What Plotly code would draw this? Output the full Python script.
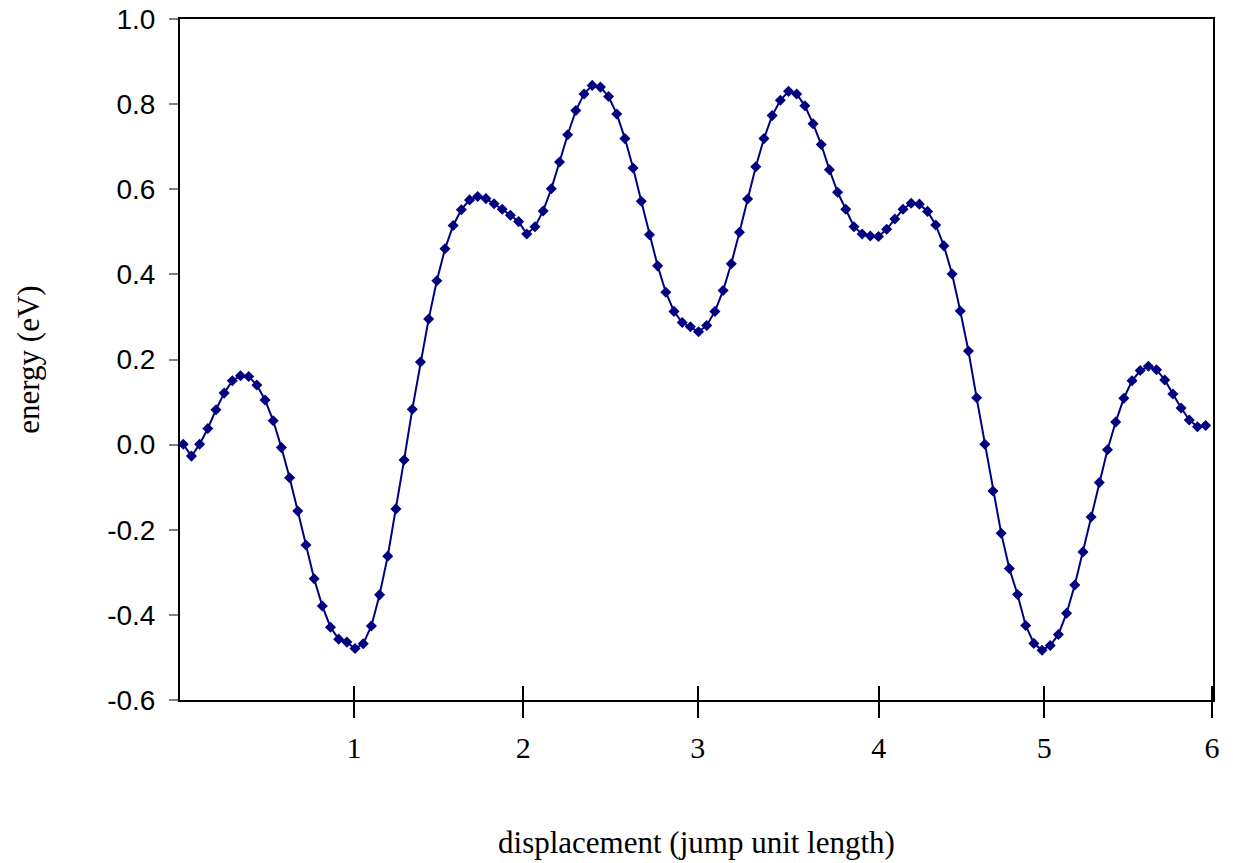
import plotly.graph_objects as go

# Energy along the jump path (eV), evenly spaced samples
energy = [
    0.001, -0.027, 0.001, 0.038, 0.082, 0.121, 0.150, 0.162, 0.160, 0.140,
    0.105, 0.056, -0.007, -0.078, -0.156, -0.236, -0.315, -0.379, -0.429, -0.457,
    -0.464, -0.479, -0.468, -0.426, -0.353, -0.262, -0.151, -0.036, 0.083, 0.194,
    0.295, 0.385, 0.460, 0.515, 0.552, 0.575, 0.583, 0.578, 0.566, 0.553,
    0.539, 0.524, 0.495, 0.512, 0.549, 0.601, 0.664, 0.728, 0.785, 0.824,
    0.844, 0.840, 0.818, 0.777, 0.719, 0.650, 0.572, 0.493, 0.420, 0.358,
    0.313, 0.287, 0.277, 0.265, 0.280, 0.313, 0.362, 0.425, 0.499, 0.577,
    0.653, 0.719, 0.773, 0.809, 0.830, 0.824, 0.796, 0.754, 0.705, 0.646,
    0.593, 0.553, 0.512, 0.495, 0.490, 0.489, 0.506, 0.530, 0.553, 0.567,
    0.565, 0.548, 0.516, 0.467, 0.401, 0.314, 0.220, 0.110, 0.001, -0.109,
    -0.208, -0.291, -0.352, -0.425, -0.467, -0.483, -0.472, -0.446, -0.396, -0.330,
    -0.252, -0.170, -0.089, -0.012, 0.053, 0.109, 0.150, 0.174, 0.184, 0.176,
    0.152, 0.119, 0.086, 0.058, 0.042, 0.045,
]
sample_index = list(range(len(energy)))

# x-axis ticks (in sample-index units) and their labels
x_tick_positions = [20.87, 41.57, 62.89, 85.02, 105.27, 125.77]
x_tick_labels = ["1", "2", "3", "4", "5", "6"]

y_tick_values = [-0.6, -0.4, -0.2, 0.0, 0.2, 0.4, 0.6, 0.8, 1.0]
y_tick_labels = ["-0.6", "-0.4", "-0.2", "0.0", "0.2", "0.4", "0.6", "0.8", "1.0"]

x_range = [-0.40, 125.90]
y_range = [-0.6, 1.0]

NAVY = "#000080"
SERIF = "Liberation Serif, Times New Roman, serif"
SANS = "Liberation Sans, Arial, sans-serif"

fig = go.Figure()
fig.add_trace(go.Scatter(
    x=sample_index, y=energy, mode="lines+markers",
    line=dict(color=NAVY, width=2),
    marker=dict(symbol="diamond", size=8.5, color=NAVY),
    showlegend=False,
))
# invisible companion trace so the overlay axis (inner half of crossing ticks) is drawn
fig.add_trace(go.Scatter(
    x=sample_index, y=energy, xaxis="x2", mode="markers",
    marker=dict(opacity=0), hoverinfo="skip", showlegend=False,
))

fig.update_layout(
    width=1233, height=863,
    margin=dict(l=180, r=20, t=19, b=163),
    plot_bgcolor="white", paper_bgcolor="white",
    showlegend=False,
    xaxis=dict(
        range=x_range, tickmode="array",
        tickvals=x_tick_positions, ticktext=x_tick_labels,
        ticks="outside", ticklen=16, tickwidth=2, tickcolor="black",
        showline=True, linecolor="black", linewidth=2, mirror=True,
        showgrid=False, zeroline=False, automargin=False,
        tickfont=dict(family=SERIF, size=30, color="black"),
        ticklabelstandoff=4,
        title=dict(text="displacement (jump unit length)",
                   font=dict(family=SERIF, size=31, color="black"),
                   standoff=68),
    ),
    xaxis2=dict(
        overlaying="x", anchor="y", side="bottom",
        range=x_range, tickmode="array", tickvals=x_tick_positions,
        ticks="inside", ticklen=14, tickwidth=2, tickcolor="black",
        showticklabels=False, showline=False, showgrid=False, zeroline=False,
        automargin=False,
    ),
    yaxis=dict(
        range=y_range, tickmode="array",
        tickvals=y_tick_values, ticktext=y_tick_labels,
        ticks="outside", ticklen=9, tickwidth=2, tickcolor="#808080",
        showline=True, linecolor="black", linewidth=2, mirror=True,
        showgrid=False, zeroline=False, automargin=False,
        tickfont=dict(family=SANS, size=28, color="black"),
        ticklabelstandoff=8,
        title=dict(text="energy (eV)",
                   font=dict(family=SERIF, size=31, color="black"),
                   standoff=58),
    ),
)

fig.write_html("out.html")
